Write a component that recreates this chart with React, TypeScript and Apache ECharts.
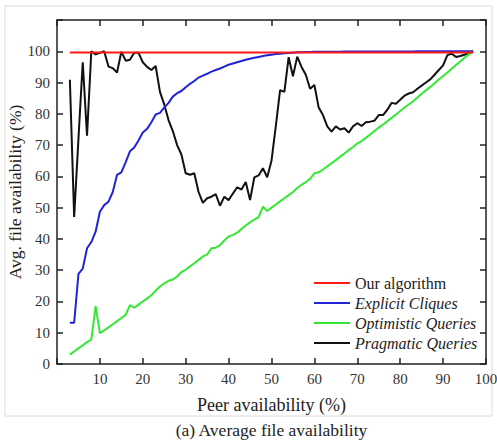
import React, { useEffect, useRef } from "react";
import * as echarts from "echarts";

const peerAvailability: number[] = [
  3, 4, 5, 6, 7, 8, 9, 10, 11, 12, 13, 14, 15, 16, 17, 18, 19, 20, 21, 22, 23, 24, 25, 26, 27, 28, 29, 30,
  31, 32, 33, 34, 35, 36, 37, 38, 39, 40, 41, 42, 43, 44, 45, 46, 47, 48, 49, 50, 51, 52, 53, 54, 55, 56, 57,
  58, 59, 60, 61, 62, 63, 64, 65, 66, 67, 68, 69, 70, 71, 72, 73, 74, 75, 76, 77, 78, 79, 80, 81, 82, 83, 84,
  85, 86, 87, 88, 89, 90, 91, 92, 93, 94, 95, 96, 97,
];

const ourAlgorithm: number[] = peerAvailability.map(() => 99.6);

const explicitCliques: number[] = [
  13.2, 13.2, 28.8, 30.5, 37, 39, 42.3, 48.7, 50.8, 51.9, 55, 60.5, 61.3, 64.5, 68, 69.2, 71.5, 74, 75.2,
  77.3, 79.8, 80.3, 82, 83.5, 85.5, 86.6, 87.3, 88.5, 89.6, 90.5, 91.6, 92.2, 92.8, 93.5, 94, 94.5, 95.1,
  95.7, 96.1, 96.5, 96.9, 97.3, 97.6, 97.9, 98.2, 98.5, 98.7, 98.9, 99.1, 99.2, 99.35, 99.45, 99.55, 99.65,
  99.7, 99.75, 99.8, 99.82, 99.84, 99.85, 99.86, 99.87, 99.88, 99.88, 99.89, 99.9, 99.9, 99.91, 99.91, 99.92,
  99.92, 99.93, 99.93, 99.94, 99.94, 99.95, 99.95, 99.95, 99.96, 99.96, 99.96, 99.97, 99.97, 99.97, 99.98,
  99.98, 99.98, 99.99, 99.99, 99.99, 99.99, 100, 100, 100, 100,
];

const optimisticQueries: number[] = [
  3, 4, 5, 6, 7, 7.8, 18.5, 9.9, 10.8, 11.7, 12.7, 13.7, 14.7, 15.7, 18.8, 18, 19, 20, 21, 22, 23.4, 24.8,
  25.8, 26.6, 27, 28, 29.4, 30.2, 31.2, 32.2, 33.3, 34.4, 35, 37, 37.2, 38, 39.5, 40.8, 41.3, 42, 43.2, 44.3,
  45.3, 46.2, 47, 50.3, 48.9, 50, 51, 52, 53, 54, 55, 56.3, 57.3, 58.2, 59.2, 61, 61.3, 62.2, 63.2, 64.2,
  65.2, 66.3, 67.3, 68.4, 69.4, 70.5, 71.3, 72.3, 73.4, 74.5, 75.6, 76.6, 77.6, 78.7, 79.8, 80.9, 82, 83, 84,
  85.2, 86.4, 87.5, 88.6, 89.8, 91, 92.1, 93.2, 94.4, 95.6, 96.7, 97.9, 99, 100,
];

const pragmaticQueries: number[] = [
  90.9, 47, 72, 96.5, 73, 100, 99, 99.5, 100, 95.1, 94.6, 93.2, 99.9, 97, 97.3, 99.5, 99.5, 96.5, 95, 94,
  95.3, 87, 83, 78, 74.5, 70, 67, 61, 60.5, 61, 55, 51.5, 53, 53.5, 54.3, 50.6, 53.5, 52.4, 54.5, 56.5, 55.8,
  58.2, 52.4, 59.7, 60.3, 62.6, 59.7, 65, 76, 87.6, 87, 98.1, 92, 98.3, 95, 92.5, 88, 89.2, 82, 79.6, 76,
  74.3, 76, 75, 75.4, 74, 76, 77, 76.1, 77.3, 77.5, 77.8, 79.6, 79.6, 81.3, 83.5, 83.2, 84.5, 85.8, 86.5,
  86.9, 88, 89, 90, 91, 92.5, 94, 95.5, 98.8, 99.2, 98.2, 98.5, 98.9, 99.5, 100,
];

const seriesNames = ["Our algorithm", "Explicit Cliques", "Optimistic Queries", "Pragmatic Queries"];
const seriesColors = ["#ff1a1a", "#2323d6", "#33e833", "#111111"];
const seriesValues = [ourAlgorithm, explicitCliques, optimisticQueries, pragmaticQueries];

const xTitle = "Peer availability (%)";
const yTitle = "Avg. file availability (%)";
const caption = "(a) Average file availability";

const FONT = "Liberation Serif";
const AXIS_COLOR = "#222";

export default function App() {
  const ref = useRef<HTMLDivElement>(null);
  useEffect(() => {
    if (!ref.current) return;
    const chart = echarts.init(ref.current, undefined, { renderer: "svg" });
    const tickStyle = { show: true, inside: true, length: 6, lineStyle: { color: AXIS_COLOR, width: 1.5 } };
    const lineStyle = { show: true, onZero: false, lineStyle: { color: AXIS_COLOR, width: 1.5 } };
    const labelStyle = { color: "#333", fontFamily: FONT, fontSize: 15, margin: 7 };
    chart.setOption({
      animation: false,
      backgroundColor: "#fff",
      grid: { left: 57, right: 11, top: 20, bottom: 77, containLabel: false, outerBoundsMode: "none" },
      xAxis: [
        {
          type: "value", min: 0, max: 100, interval: 10, position: "bottom",
          axisLine: lineStyle, axisTick: tickStyle, splitLine: { show: false },
          axisLabel: { ...labelStyle, formatter: (v: number) => (v === 0 ? "" : String(v)) },
          name: xTitle, nameLocation: "middle", nameGap: 32, nameMoveOverlap: false,
          nameTextStyle: { fontFamily: FONT, fontSize: 18, color: "#222" },
        },
        {
          type: "value", min: 0, max: 100, interval: 10, position: "top",
          axisLine: lineStyle, axisTick: tickStyle, splitLine: { show: false }, axisLabel: { show: false },
        },
      ],
      yAxis: [
        {
          type: "value", min: 0, max: 110, interval: 10, position: "left",
          axisLine: lineStyle, axisTick: tickStyle, splitLine: { show: false },
          axisLabel: { ...labelStyle, formatter: (v: number) => (v === 110 ? "" : String(v)) },
          name: yTitle, nameLocation: "middle", nameGap: 33, nameRotate: 90, nameMoveOverlap: false,
          nameTextStyle: { fontFamily: FONT, fontSize: 17.5, color: "#222" },
        },
        {
          type: "value", min: 0, max: 110, interval: 10, position: "right",
          axisLine: lineStyle, axisTick: tickStyle, splitLine: { show: false }, axisLabel: { show: false },
        },
      ],
      legend: {
        orient: "vertical",
        left: 309,
        top: 270,
        icon: "rect",
        itemWidth: 36,
        itemHeight: 2,
        itemGap: 4,
        data: seriesNames,
        textStyle: {
          fontFamily: FONT, fontSize: 16, color: "#222", lineHeight: 16,
          rich: { i: { fontStyle: "italic", fontFamily: FONT, fontSize: 16, color: "#222", lineHeight: 16 } },
        },
        formatter: (name: string) => (name === "Our algorithm" ? name : `{i|${name}}`),
      },
      series: seriesNames.map((name, si) => ({
        name,
        type: "line",
        xAxisIndex: 0,
        yAxisIndex: 0,
        symbol: "none",
        color: seriesColors[si],
        lineStyle: { color: seriesColors[si], width: 2 },
        z: si === 0 ? 5 : 4 - si + 1,
        data: peerAvailability.map((x, i) => [x, seriesValues[si][i]]),
      })),
      graphic: [
        {
          type: "rect", shape: { x: 5, y: 6, width: 487, height: 410 }, silent: true,
          style: { fill: "none", stroke: "#dcdcdc", lineWidth: 1 },
        },
        {
          type: "text", x: 271.5, y: 430,
          style: { text: caption, fontFamily: FONT, fontSize: 17.5, fill: "#222", textAlign: "center", textVerticalAlign: "middle" },
        },
      ],
    });
    return () => chart.dispose();
  }, []);
  return <div ref={ref} style={{ position: "fixed", left: 0, top: 0, width: 497, height: 441 }} />;
}
